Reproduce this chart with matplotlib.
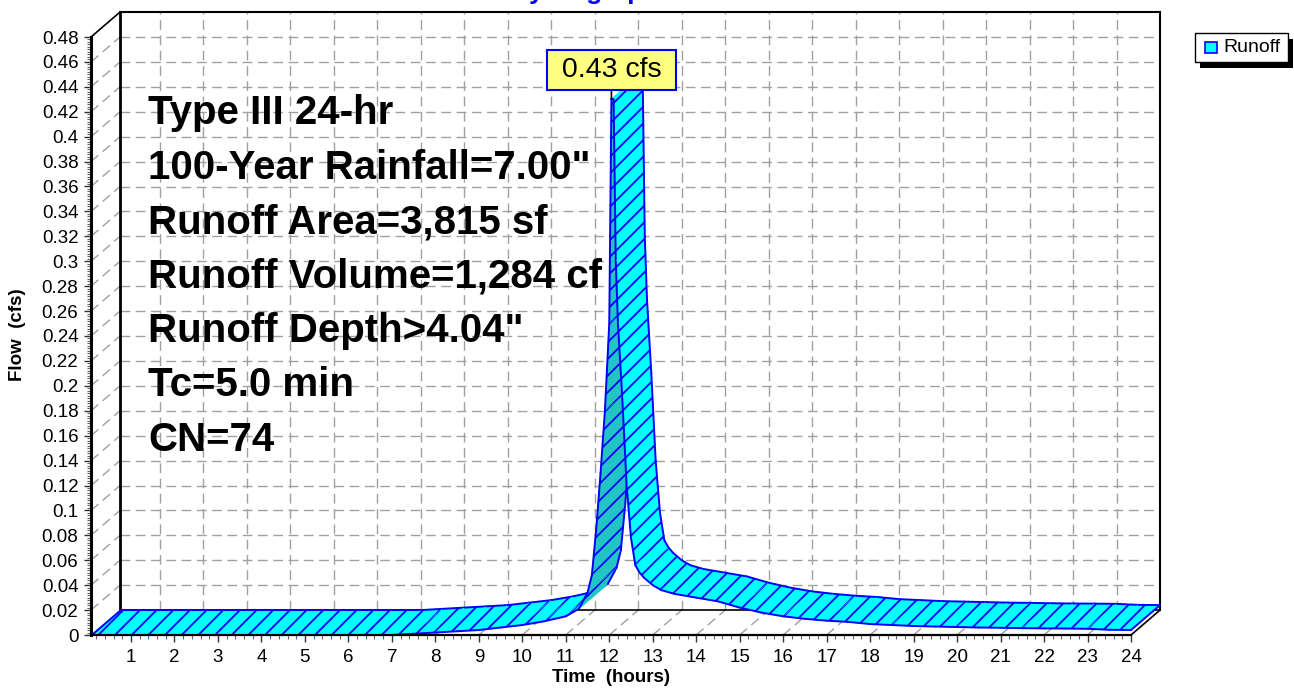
import numpy as np
import matplotlib
matplotlib.use('Agg')
import matplotlib.pyplot as plt
from matplotlib.patches import Polygon, Rectangle
from matplotlib.ticker import FixedLocator, MultipleLocator, FuncFormatter

# hydrograph (front edge of the ribbon)
time_hr = [0.1, 7.0, 7.5, 8.0, 8.5, 9.0, 9.5, 10.0, 10.5, 11.0, 11.3, 11.5,
           11.6, 11.7, 11.8, 11.9, 12.0, 12.05, 12.1, 12.15, 12.2, 12.3, 12.4,
           12.5, 12.6, 12.7, 12.8, 13.0, 13.2, 13.5, 14.0, 14.5, 15.0, 15.5,
           16.0, 16.5, 17.0, 17.5, 18.0, 18.5, 19.0, 19.5, 20.0, 20.5, 21.0,
           21.5, 22.0, 22.5, 23.0, 23.5, 24.0]
flow_cfs = [0.0, 0.0, 0.001, 0.002, 0.003, 0.004, 0.006, 0.008, 0.011, 0.015,
            0.021, 0.034, 0.048, 0.085, 0.13, 0.18, 0.25, 0.43, 0.43, 0.30,
            0.25, 0.19, 0.12, 0.078, 0.056, 0.05, 0.046, 0.04, 0.036, 0.033,
            0.030, 0.027, 0.022, 0.018, 0.015, 0.013, 0.0115, 0.0105, 0.0088,
            0.008, 0.0072, 0.0068, 0.0064, 0.006, 0.0058, 0.0055, 0.0053,
            0.0052, 0.005, 0.0042, 0.004]
series_name = 'Runoff'
peak_label = '0.43 cfs'
info_lines = ['Type III 24-hr', '100-Year Rainfall=7.00"', 'Runoff Area=3,815 sf',
              'Runoff Volume=1,284 cf', 'Runoff Depth>4.04"', 'Tc=5.0 min', 'CN=74']
x_ticks = list(range(1, 25))
y_ticks = np.round(np.arange(0, 0.481, 0.02), 2)

W, H = 1294, 688
plt.rcParams['font.family'] = ['Liberation Sans', 'DejaVu Sans']
plt.rcParams['hatch.color'] = '#0000FF'
plt.rcParams['hatch.linewidth'] = 1.3

CYAN = '#00FFFF'
DARK = '#22C4C4'
BLUE = '#0000FF'
GRID = '#A0A0A0'


def fx(px):
    return px / W


def fy(py):
    return 1 - py / H


fig = plt.figure(figsize=(W / 100, H / 100), dpi=100)
fig.patch.set_facecolor('white')
ax = fig.add_axes([fx(91), fy(635), 1040 / W, 598 / H])
x0, x1, y1 = 0.08, 24, 0.48
ax.set_xlim(x0, x1)
ax.set_ylim(0, y1)
ax.patch.set_visible(False)

# depth of the pseudo-3D box, pixels -> data units
DXP, DYP = 29, 24.9
px_per_t = 1040 / (x1 - x0)
px_per_q = 598 / y1
DX = DXP / px_per_t
DY = DYP / px_per_q

# back wall, left wall and floor grid
gkw = dict(color=GRID, lw=1, ls=(0, (7, 4)), clip_on=False, zorder=1)
for q in y_ticks[1:-1]:
    ax.plot([x0 + DX, x1 + DX], [q + DY, q + DY], **gkw)
    ax.plot([x0, x0 + DX], [q, q + DY], **gkw)
for t in x_ticks[:-1]:
    ax.plot([t + DX, t + DX], [DY, y1 + DY], **gkw)
    ax.plot([t, t + DX], [0, DY], **gkw)

bkw = dict(color='black', clip_on=False, zorder=1.5)
ax.plot([x0 + DX, x1 + DX], [y1 + DY, y1 + DY], lw=1.5, **bkw)
ax.plot([x0 + DX, x0 + DX], [DY, y1 + DY], lw=2, **bkw)
ax.plot([x1 + DX, x1 + DX], [DY, y1 + DY], lw=1.5, **bkw)
ax.plot([x0 + DX, x1 + DX], [DY, DY], lw=1.2, **bkw)
ax.plot([x0, x0 + DX], [y1, y1 + DY], lw=1.2, **bkw)
ax.plot([x1, x1 + DX], [0, DY], lw=1.2, **bkw)

# ribbon, one quad per segment, left to right
T = np.array(time_hr)
Q = np.array(flow_cfs)
lkw = dict(color=BLUE, lw=1.4, clip_on=False, solid_capstyle='round')
for i in range(len(T) - 1):
    z = 2 + i * 0.01
    quad = [(T[i], Q[i]), (T[i + 1], Q[i + 1]),
            (T[i + 1] + DX, Q[i + 1] + DY), (T[i] + DX, Q[i] + DY)]
    slope = (Q[i + 1] - Q[i]) * px_per_q / ((T[i + 1] - T[i]) * px_per_t)
    col = DARK if slope > DYP / DXP else CYAN
    ax.add_patch(Polygon(quad, closed=True, facecolor=col, edgecolor=col,
                         lw=0.6, clip_on=False, zorder=z))
    ax.add_patch(Polygon(quad, closed=True, facecolor='none', hatch='//',
                         clip_on=False, zorder=z + 0.002))
    ax.plot([T[i], T[i + 1]], [Q[i], Q[i + 1]], zorder=z + 0.004, **lkw)
    ax.plot([T[i] + DX, T[i + 1] + DX], [Q[i] + DY, Q[i + 1] + DY],
            zorder=z + 0.004, **lkw)
ax.plot([T[0], T[0] + DX], [Q[0], Q[0] + DY], zorder=3, **lkw)
ax.plot([T[-1], T[-1] + DX], [Q[-1], Q[-1] + DY], zorder=3, **lkw)

# front axes
for s in ['top', 'right']:
    ax.spines[s].set_visible(False)
ax.spines['left'].set_linewidth(2.2)
ax.spines['bottom'].set_linewidth(1.6)
ax.spines['left'].set_zorder(4)
ax.spines['bottom'].set_zorder(4)

ax.yaxis.set_major_locator(FixedLocator(y_ticks))
ax.yaxis.set_major_formatter(FuncFormatter(lambda v, p: '{:g}'.format(round(v, 2))))
ax.yaxis.set_minor_locator(MultipleLocator(0.002))
ax.xaxis.set_major_locator(FixedLocator(x_ticks))
ax.xaxis.set_minor_locator(MultipleLocator(0.2))
ax.tick_params(axis='both', which='major', length=5, width=1, labelsize=13.5,
               color='#333333')
ax.tick_params(axis='y', which='major', pad=4)
ax.tick_params(axis='x', which='major', pad=5)
ax.tick_params(axis='both', which='minor', length=3, width=0.8, color='#666666')

ax.set_xlabel('Time  (hours)', fontsize=13.5, fontweight='bold')
ax.xaxis.set_label_coords(0.5, -(677 - 635) / 598)
ax.xaxis.label.set_va('center')
ax.set_ylabel('Flow  (cfs)', fontsize=13.5, fontweight='bold')
ax.yaxis.set_label_coords((18 - 91) / 1040, (635 - 335) / 598)
ax.yaxis.label.set_va('center')

# peak label
ipk = int(np.argmax(Q))
ax.annotate(' ' + peak_label + ' ', xy=(T[ipk], Q[ipk]), xytext=(0, 29),
            textcoords='offset pixels', ha='center', va='center', fontsize=20.5,
            bbox=dict(boxstyle='square,pad=0.24', fc='#FFFF80', ec=BLUE, lw=1.5),
            arrowprops=dict(arrowstyle='-', color='black', lw=1.2,
                            shrinkA=0, shrinkB=0),
            zorder=10, annotation_clip=False)

# summary text
for k, line in enumerate(info_lines):
    fig.text(fx(148), fy(124 + 54.5 * k), line, fontsize=29,
             fontweight='bold', va='baseline', ha='left', zorder=6)

# title, mostly cut off by the top edge
fig.text(fx(585), fy(-1.5), 'Hydrograph', color=BLUE, fontsize=19,
         fontweight='bold', ha='center', va='baseline')

# legend with hard shadow
fig.patches.append(Rectangle((fx(1200), fy(68)), 93 / W, 29 / H,
                             transform=fig.transFigure, fc='black', ec='none'))
fig.patches.append(Rectangle((fx(1195), fy(62)), 93 / W, 29 / H,
                             transform=fig.transFigure, fc='white', ec='black', lw=1))
fig.patches.append(Rectangle((fx(1205), fy(53)), 12 / W, 11 / H,
                             transform=fig.transFigure, fc=CYAN, ec=BLUE, lw=1.2))
fig.text(fx(1223), fy(47.5), series_name, fontsize=14, va='center', ha='left')

fig.savefig('out.png', dpi=100)
